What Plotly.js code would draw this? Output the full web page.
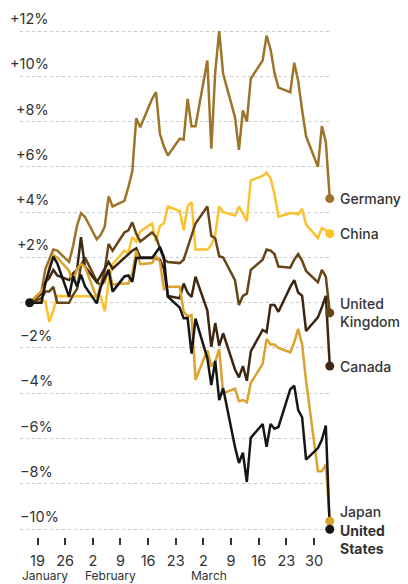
<!DOCTYPE html>
<html>
<head>
<meta charset="utf-8">
<script src="https://cdn.plot.ly/plotly-3.0.1.min.js"></script>
<style>
html,body{margin:0;padding:0;background:#fff;}
#chart{width:408px;height:584px;}
</style>
</head>
<body>
<div id="chart"></div>
<script>
// ---- Data (percent change since 17 January) ----
const dates = ['2025-01-17','2025-01-20','2025-01-21','2025-01-22','2025-01-23','2025-01-24',
'2025-01-27','2025-01-28','2025-01-29','2025-01-30','2025-01-31',
'2025-02-03','2025-02-04','2025-02-05','2025-02-06','2025-02-07',
'2025-02-10','2025-02-11','2025-02-12','2025-02-13','2025-02-14',
'2025-02-17','2025-02-18','2025-02-19','2025-02-20','2025-02-21',
'2025-02-24','2025-02-25','2025-02-26','2025-02-27','2025-02-28',
'2025-03-03','2025-03-04','2025-03-05','2025-03-06','2025-03-07',
'2025-03-10','2025-03-11','2025-03-12','2025-03-13','2025-03-14',
'2025-03-17','2025-03-18','2025-03-19','2025-03-20','2025-03-21',
'2025-03-24','2025-03-25','2025-03-26','2025-03-27','2025-03-28',
'2025-03-31','2025-04-01','2025-04-02','2025-04-03'];

const germany = [0,0.5,1.5,1.9,2.35,2.3, 1.8,2.5,3.4,3.95,3.8, 2.8,3.0,3.35,4.7,4.25,
  4.5,5.1,5.8,8.15,7.75, 9.0,9.3,7.45,6.9,6.5, 7.25,7.2,9.0,7.8,7.8,
  10.7,6.8,10.2,12.0,10.1, 8.2,6.75,8.5,8.0,9.9, 10.7,11.8,11.2,10.15,9.5,
  9.3,10.6,9.8,8.5,7.35, 6.0,7.8,7.1,4.6];
const china = [0,0.1,0.05,-0.85,-0.35,0.3, 0.28,0.28,0.28,0.28,0.28, 0.28,0.28,-0.38,0.9,1.7,
  2.3,2.2,2.9,2.7,3.15, 3.5,2.7,3.4,3.5,4.25, 4.05,3.2,4.25,4.45,2.35,
  2.35,2.55,3.0,4.25,4.0, 3.85,4.25,3.95,3.6,5.4, 5.6,5.75,5.5,4.8,3.8,
  3.95,3.95,3.9,4.15,3.45, 2.85,3.3,3.2,3.05];
const uk = [0,0.2,0.5,0.5,0.7,0.0, 0.0,0.35,0.6,1.65,2.0, 0.95,0.75,1.4,2.6,2.3,
  3.1,3.2,3.55,3.05,2.7, 3.1,2.9,2.4,1.9,1.8, 1.75,1.9,2.4,2.9,3.5,
  4.25,2.95,2.85,2.05,2.0, 1.0,-0.1,0.3,0.4,1.45, 1.9,2.35,2.3,2.15,1.6,
  1.55,1.9,2.15,1.85,1.4, 0.9,1.45,1.15,-0.45];
const canada = [0,0.4,0.9,1.1,1.45,1.2, 1.0,1.3,1.45,2.9,1.6, 0.9,1.2,1.5,1.8,1.5,
  2.0,2.15,2.3,2.4,2.0, 2.0,1.95,1.9,1.5,0.3, 0.2,0.85,0.45,0.25,1.15,
  -0.35,-1.95,-0.9,-1.9,-1.35, -2.95,-3.3,-2.8,-3.45,-2.15, -1.2,-1.3,-0.1,-0.1,-0.4,
  0.7,1.0,0.45,0.3,-1.25, -0.65,-0.2,0.3,-2.8];
const japan = [0,0.5,0.8,1.6,2.1,2.0, 1.4,0.9,1.5,1.7,1.6, 0.2,0.8,0.9,1.5,0.8,
  0.85,0.85,1.3,2.3,1.7, 1.75,2.05,1.8,0.6,0.7, 0.7,-0.4,-0.6,-0.55,-3.4,
  -2.1,-2.8,-2.6,-2.05,-4.0, -3.8,-4.35,-4.3,-4.4,-3.55, -2.7,-1.6,-1.85,-1.85,-2.0,
  -2.2,-1.75,-1.15,-1.85,-3.45, -7.45,-7.45,-7.15,-9.65];
const us = [0,0,0.88,1.5,2.03,1.74, 0.26,1.18,0.71,1.24,0.73, -0.03,0.69,1.08,1.45,0.49,
  1.16,1.2,0.92,1.97,1.97, 1.97,2.22,2.46,2.01,0.27, -0.22,-0.69,-0.68,-2.25,-0.7,
  -2.45,-3.64,-2.57,-4.3,-3.78, -6.37,-7.08,-6.63,-7.92,-5.97, -5.36,-6.37,-5.36,-5.57,-5.49,
  -3.82,-3.67,-4.74,-5.06,-6.93, -6.42,-6.06,-5.43,-10.01];

const seriesNames = ['Germany','China','United<br>Kingdom','Canada','Japan','United<br>States'];
const seriesValues = [germany, china, uk, canada, japan, us];

const tickDates = ['2025-01-19','2025-01-26','2025-02-02','2025-02-09','2025-02-16','2025-02-23',
  '2025-03-02','2025-03-09','2025-03-16','2025-03-23','2025-03-30'];
const tickText = ['19','26','2','9','16','23','2','9','16','23','30'];
const monthLabels = ['January','February','March'];
const yTicks = [12,10,8,6,4,2,-2,-4,-6,-8,-10];

// ---- Styles ----
const colors = ['#9e742a','#fcc22e','#664519','#3d2713','#dba22e','#161616'];
const labelShift = [0,0,0,0,10,-10];
const labelWeight = [500,500,500,500,500,700];
const FONT = 'Inter, "Open Sans", sans-serif';
const TXT = '#333333';

const L = 20, R = 76, T = 22, B = 47, W = 408, H = 584;
const plotW = W - L - R, plotH = H - T - B;

const traces = [];
seriesValues.forEach((vals, i) => {
  traces.push({
    x: dates, y: vals, type: 'scatter', mode: 'lines',
    line: {color: colors[i], width: 2.5}, hoverinfo: 'skip', showlegend: false
  });
});
seriesValues.forEach((vals, i) => {
  traces.push({
    x: [dates[dates.length-1]], y: [vals[vals.length-1]], type: 'scatter', mode: 'markers',
    marker: {color: colors[i], size: 9}, cliponaxis: false, hoverinfo: 'skip', showlegend: false
  });
});
traces.push({
  x: [dates[0]], y: [us[0]], type: 'scatter', mode: 'markers',
  marker: {color: '#161616', size: 9}, cliponaxis: false, hoverinfo: 'skip', showlegend: false
});

const annotations = [];
seriesValues.forEach((vals, i) => {
  annotations.push({
    x: dates[dates.length-1], y: vals[vals.length-1], xref: 'x', yref: 'y',
    text: seriesNames[i], showarrow: false, xanchor: 'left', yanchor: 'middle',
    xshift: 8, yshift: labelShift[i], align: 'left',
    font: {family: FONT, size: 14, color: TXT, weight: labelWeight[i]}
  });
});
function fmt(v){ return (v > 0 ? '+' : '\u2212') + Math.abs(v) + '%'; }
yTicks.forEach(v => {
  const pos = v > 0;
  annotations.push({
    x: pos ? (51 - L)/plotW : -2/plotW, y: v, xref: 'paper', yref: 'y',
    text: fmt(v), showarrow: false, xanchor: pos ? 'right' : 'left', yanchor: 'bottom',
    yshift: 2, font: {family: FONT, size: 14.5, color: TXT}
  });
});
const monthPx = [20, 83, 189];
monthLabels.forEach((m, i) => {
  annotations.push({
    x: (monthPx[i] - L)/plotW, y: (T + plotH - 575) / plotH, xref: 'paper', yref: 'paper',
    text: m, showarrow: false, xanchor: 'left', yanchor: 'middle',
    font: {family: FONT, size: 12, color: TXT}
  });
});

const layout = {
  width: W, height: H,
  margin: {l: L, r: R, t: T, b: B},
  paper_bgcolor: '#ffffff', plot_bgcolor: '#ffffff',
  font: {family: FONT, color: TXT},
  showlegend: false,
  xaxis: {
    type: 'date', range: ['2025-01-14 13:30', '2025-04-03 13:30'],
    tickvals: tickDates, ticktext: tickText, ticks: 'outside', ticklen: 7, tickwidth: 2,
    tickcolor: '#333333', showgrid: false, zeroline: false, showline: false,
    tickfont: {family: FONT, size: 14.5, color: TXT}, ticklabelstandoff: 4, fixedrange: true
  },
  yaxis: {
    range: [-10.35, 12.4], tickvals: yTicks.concat([0]), showticklabels: false,
    showgrid: true, gridcolor: '#c9c9c9', griddash: 'dot', gridwidth: 1,
    zeroline: false, showline: false, ticks: '', fixedrange: true
  },
  annotations: annotations
};

Plotly.newPlot('chart', traces, layout, {displayModeBar: false, staticPlot: true});
</script>
</body>
</html>
